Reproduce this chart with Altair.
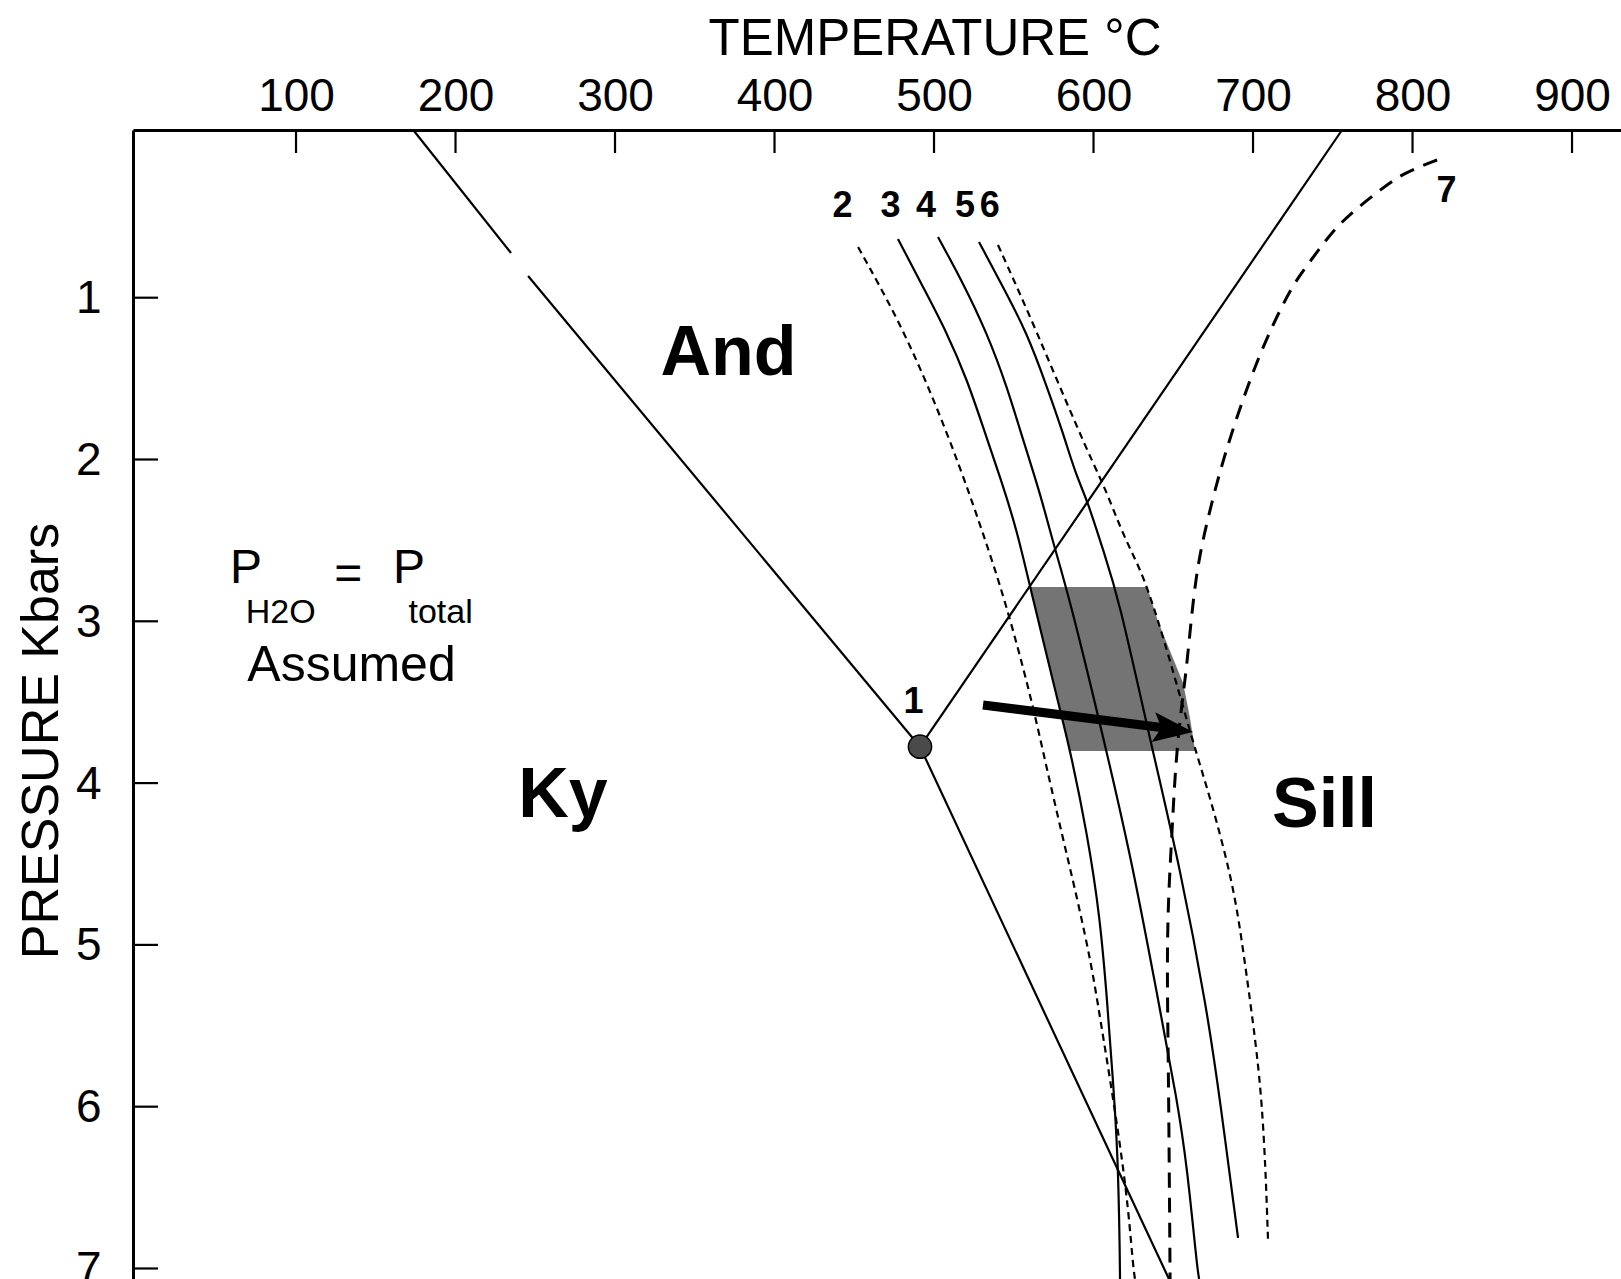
import altair as alt
import pandas as pd

# ---------------- axis values ----------------
T_TICKS = [100, 200, 300, 400, 500, 600, 700, 800, 900]
P_TICKS = [1, 2, 3, 4, 5, 6, 7]
X_DOMAIN = [-2.2, 930.7]
Y_DOMAIN = [-0.0365, 7.065]

# ---------------- phase boundaries (T degC, P kbar) ----------------
KY_AND_A_T = [173.5, 234.8]
KY_AND_A_P = [-0.0365, 0.724]
KY_AND_B_T = [245.5, 491.2]
KY_AND_B_P = [0.866, 3.775]
AND_SILL_T = [491.2, 755.8]
AND_SILL_P = [3.775, -0.0365]
KY_SILL_T = [491.2, 647.3]
KY_SILL_P = [3.775, 7.065]
TRIPLE_T = [491.2]
TRIPLE_P = [3.775]

# ---------------- reaction curves 2-7 ----------------
C2_T = [452.4, 476.8, 497.5, 516.3, 530.7, 544.5, 560.2, 569.5, 580.0, 590.0, 599.0, 604.3, 612.2, 621.0, 624.8, 626.0]
C2_P = [0.687, 1.119, 1.570, 2.046, 2.454, 2.868, 3.443, 3.857, 4.308, 4.722, 5.137, 5.464, 5.940, 6.533, 6.990, 7.065]

C3_T = [477.4, 493.1, 508.2, 520.8, 530.7, 541.4, 552.0, 560.2, 579.0, 585.3, 596.0, 604.1, 608.5, 612.2, 615.4, 616.6, 616.6]
C3_P = [0.637, 0.934, 1.218, 1.509, 1.798, 2.108, 2.436, 2.788, 3.548, 3.796, 4.308, 4.828, 5.340, 5.835, 6.311, 6.990, 7.065]

C4_T = [502.5, 518.2, 533.2, 545.8, 555.8, 566.5, 575.9, 585.3, 608.5, 624.8, 640.5, 652.4, 658.7, 664.9, 666.2]
C4_P = [0.625, 0.909, 1.218, 1.551, 1.879, 2.207, 2.559, 2.868, 3.814, 4.519, 5.340, 5.958, 6.372, 6.990, 7.065]

C5_T = [528.2, 543.3, 558.3, 570.8, 580.9, 588.5, 596.5, 605.9, 615.4, 637.3, 654.2, 671.2, 679.3, 690.6]
C5_P = [0.656, 0.934, 1.218, 1.551, 1.836, 2.083, 2.263, 2.559, 2.837, 3.814, 4.519, 5.402, 5.958, 6.811]

C6_T = [540.1, 552.0, 564.6, 577.1, 589.7, 599.7, 608.5, 616.6, 624.8, 633.6, 648.0, 662.4, 673.1, 687.5, 693.8, 698.1, 706.3, 709.4]
C6_P = [0.674, 0.934, 1.218, 1.509, 1.799, 2.022, 2.207, 2.417, 2.590, 2.776, 3.239, 3.752, 4.086, 4.617, 5.031, 5.340, 5.958, 6.824]

C7_T = [815.4, 794.1, 779.7, 765.3, 751.4, 740.2, 728.3, 718.9, 704.4, 691.9, 680.6, 671.8, 663.7, 658.6, 654.2, 651.1, 649.2, 646.8, 646.1, 646.8, 647.4, 648.0]
C7_P = [0.149, 0.229, 0.334, 0.446, 0.569, 0.718, 0.872, 1.032, 1.341, 1.675, 2.021, 2.355, 2.714, 3.282, 3.592, 3.938, 4.308, 4.722, 5.136, 5.650, 6.268, 7.065]

# ---------------- stippled field ----------------
ST_P = [2.788, 3.0, 3.383, 3.60, 3.802]
ST_TL = [560.2, 565.4, 574.9, 580.3, 585.4]
ST_TR = [633.6, 640.4, 656.2, 660.5, 663.7]

# ---------------- arrow ----------------
ARROW_T = [530.7, 645.0]
ARROW_P = [3.517, 3.660]
HEAD_T = [650.0]
HEAD_P = [3.669]

# ---------------- labels ----------------
FIELD_TEXT = ["And", "Ky", "Sill"]
FIELD_T = [371.2, 267.4, 744.8]
FIELD_P = [1.478, 4.208, 4.271]

NUM_TEXT = ["2", "3", "4", "5", "6", "7", "1"]
NUM_T = [442.6, 472.7, 495.0, 519.4, 534.9, 821.3, 487.1]
NUM_P = [0.503, 0.503, 0.503, 0.503, 0.503, 0.408, 3.567]

BIG_TEXT = ["P", "=", "P"]
BIG_T = [58.6, 124.0, 160.8]
BIG_P = [2.763, 2.80, 2.763]
SUB_TEXT = ["H2O", "total"]
SUB_T = [68.5, 170.5]
SUB_P = [3.01, 3.01]
NOTE_TEXT = ["Assumed"]
NOTE_T = [134.8]
NOTE_P = [3.37]

FONT = "Liberation Sans"

X_SCALE = alt.Scale(domain=X_DOMAIN, nice=False, zero=False)
Y_SCALE = alt.Scale(domain=Y_DOMAIN, nice=False, zero=False, reverse=True)

X_AXIS = alt.Axis(
    orient="top", values=T_TICKS, ticks=False, tickSize=0, grid=False,
    domainColor="black", domainWidth=3,
    labelFont=FONT, labelFontSize=46, labelColor="black", labelPadding=20,
    labelBaseline="alphabetic", labelAlign="center", labelFlush=False, labelOverlap=False,
    title="TEMPERATURE °C", titleFont=FONT, titleFontSize=51, titleFontWeight="normal",
    titleColor="black", titleX=801.5, titleY=-76, titleAlign="center",
    titleBaseline="alphabetic", titleAngle=0,
)
Y_AXIS = alt.Axis(
    orient="left", values=P_TICKS, ticks=False, tickSize=0, grid=False,
    domainColor="black", domainWidth=3,
    labelFont=FONT, labelFontSize=46, labelColor="black", labelPadding=32,
    labelAlign="right", labelBaseline="alphabetic", labelOffset=15,
    labelFlush=False, labelOverlap=False,
    title="PRESSURE Kbars", titleFont=FONT, titleFontSize=52, titleFontWeight="normal",
    titleColor="black", titleAngle=270, titleX=-76, titleY=610.5,
    titleAlign="center", titleBaseline="alphabetic",
)


def X(field):
    return alt.X(f"{field}:Q", scale=X_SCALE, axis=X_AXIS)


def Y(field):
    return alt.Y(f"{field}:Q", scale=Y_SCALE, axis=Y_AXIS)


def seg(name, T, P):
    return pd.DataFrame({"T": T, "P": P, "s": name, "i": list(range(len(T)))})


straight_df = pd.concat([
    seg("ky_and_a", KY_AND_A_T, KY_AND_A_P),
    seg("ky_and_b", KY_AND_B_T, KY_AND_B_P),
    seg("and_sill", AND_SILL_T, AND_SILL_P),
    seg("ky_sill", KY_SILL_T, KY_SILL_P),
])
solid_curve_df = pd.concat([
    seg("c3", C3_T, C3_P),
    seg("c4", C4_T, C4_P),
    seg("c5", C5_T, C5_P),
])
short_dash_df = pd.concat([seg("c2", C2_T, C2_P), seg("c6", C6_T, C6_P)])
long_dash_df = seg("c7", C7_T, C7_P)

stipple = alt.Chart(pd.DataFrame({"P": ST_P, "TL": ST_TL, "TR": ST_TR})).mark_area(
    orient="horizontal", color="#747474", opacity=1
).encode(y=Y("P"), x=X("TL"), x2="TR:Q")

straight = alt.Chart(straight_df).mark_line(
    color="black", strokeWidth=2.2
).encode(x=X("T"), y=Y("P"), detail="s:N", order="i:Q")

solid_curves = alt.Chart(solid_curve_df).mark_line(
    color="black", strokeWidth=2.2, interpolate="basis"
).encode(x=X("T"), y=Y("P"), detail="s:N", order="i:Q")

short_dash = alt.Chart(short_dash_df).mark_line(
    color="black", strokeWidth=2.2, strokeDash=[7, 5], interpolate="basis"
).encode(x=X("T"), y=Y("P"), detail="s:N", order="i:Q")

long_dash = alt.Chart(long_dash_df).mark_line(
    color="black", strokeWidth=3, strokeDash=[15, 10], interpolate="basis"
).encode(x=X("T"), y=Y("P"), detail="s:N", order="i:Q")

x_ticks = alt.Chart(pd.DataFrame({"T": T_TICKS})).mark_rule(
    color="black", strokeWidth=2.2
).encode(x=X("T"), y=alt.value(0), y2=alt.value(23))

y_ticks = alt.Chart(pd.DataFrame({"P": P_TICKS})).mark_rule(
    color="black", strokeWidth=2.2
).encode(y=Y("P"), x=alt.value(0), x2=alt.value(25))

triple = alt.Chart(pd.DataFrame({"T": TRIPLE_T, "P": TRIPLE_P})).mark_point(
    shape="circle", filled=True, size=540, fill="#4a4a4a", stroke="black",
    strokeWidth=1.5, opacity=1
).encode(x=X("T"), y=Y("P"))

arrow_shaft = alt.Chart(pd.DataFrame({"T": ARROW_T, "P": ARROW_P, "i": [0, 1]})).mark_line(
    color="black", strokeWidth=9, strokeCap="butt"
).encode(x=X("T"), y=Y("P"), order="i:Q")

arrow_head = alt.Chart(pd.DataFrame({"T": HEAD_T, "P": HEAD_P})).mark_point(
    shape="M1,0L-1,-0.75L-0.6,0L-1,0.75Z", filled=True, size=1600, angle=7,
    color="black", opacity=1, strokeWidth=0
).encode(x=X("T"), y=Y("P"))


def text_layer(texts, T, P, size, weight, align):
    df = pd.DataFrame({"label": texts, "T": T, "P": P})
    return alt.Chart(df).mark_text(
        font=FONT, fontSize=size, fontWeight=weight, align=align,
        baseline="alphabetic", color="black"
    ).encode(x=X("T"), y=Y("P"), text="label:N")


fields = text_layer(FIELD_TEXT, FIELD_T, FIELD_P, 70, "bold", "center")
nums = text_layer(NUM_TEXT, NUM_T, NUM_P, 36, "bold", "center")
big = text_layer(BIG_TEXT, BIG_T, BIG_P, 48, "normal", "left")
sub = text_layer(SUB_TEXT, SUB_T, SUB_P, 34, "normal", "left")
note = text_layer(NOTE_TEXT, NOTE_T, NOTE_P, 50, "normal", "center")

chart = alt.layer(
    stipple, straight, solid_curves, short_dash, long_dash, x_ticks, y_ticks,
    arrow_shaft, arrow_head, triple, fields, nums, big, sub, note
).properties(
    width=1488, height=1149,
    padding={"left": 133, "top": 130, "right": 0, "bottom": 0},
    autosize=alt.AutoSizeParams(type="none"),
    background="white",
).configure_view(strokeWidth=0)

chart.save("out.html", embed_options={"renderer": "svg", "actions": False})
